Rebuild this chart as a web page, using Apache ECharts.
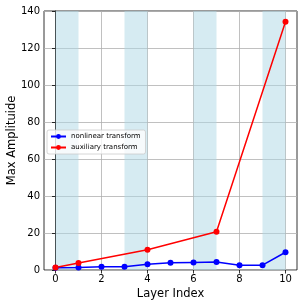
<!DOCTYPE html>
<html><head><meta charset="utf-8">
<script src="https://cdn.jsdelivr.net/npm/echarts@6/dist/echarts.min.js"></script>
<style>html,body{margin:0;padding:0;background:#fff}#c{width:305px;height:305px}</style>
</head><body><div id="c"></div>
<script>
const layers = [0,1,2,3,4,5,6,7,8,9,10];
const nonlinear = [1.2,1.4,1.7,1.8,3.1,3.9,4.1,4.3,2.6,2.6,9.6];
const auxLayers = [0,1,4,7,10];
const auxiliary = [1.4,3.8,11.0,20.7,134.2];
const bands = [[0,1],[3,4],[6,7],[9,10]];
const xTicks = {min:0,max:10,interval:2};
const yTicks = {min:0,max:140,interval:20};

const font = 'DejaVu Sans';
const chart = echarts.init(document.getElementById('c'), null, {renderer:'canvas'});
chart.setOption({
  animation:false,
  grid:[
    {left:44,width:253,top:11,height:259,show:true,borderColor:'#000',borderWidth:0.8,backgroundColor:'transparent',containLabel:false,outerBoundsMode:'none'},
    {left:55.5,width:230,top:11,height:259,show:false,containLabel:false,outerBoundsMode:'none'}
  ],
  xAxis:[
    {type:'value',gridIndex:0,min:-0.5,max:10.5,interval:0.5,
     axisLine:{show:false},axisTick:{show:false},axisLabel:{show:false},splitLine:{show:false}},
    {type:'value',gridIndex:1,min:xTicks.min,max:xTicks.max,interval:xTicks.interval,
     axisLine:{show:false},
     axisTick:{show:true,length:3.5,lineStyle:{color:'#000',width:0.8}},
     axisLabel:{color:'#000',fontFamily:font,fontSize:10,margin:4},
     splitLine:{show:true,lineStyle:{color:'#b0b0b0',width:0.8}},
     name:'Layer Index',nameLocation:'middle',nameGap:18,nameMoveOverlap:false,
     nameTextStyle:{color:'#000',fontFamily:font,fontSize:11.5}}
  ],
  yAxis:[
    {type:'value',gridIndex:0,min:yTicks.min,max:yTicks.max,interval:yTicks.interval,
     axisLine:{show:true,lineStyle:{color:'#000',width:0.8}},
     axisTick:{show:true,length:3.5,lineStyle:{color:'#000',width:0.8}},
     axisLabel:{color:'#000',fontFamily:font,fontSize:10,margin:4},
     splitLine:{show:true,lineStyle:{color:'#b0b0b0',width:0.8}},
     name:'Max Amplituide',nameLocation:'middle',nameGap:26,nameRotate:90,nameMoveOverlap:false,
     nameTextStyle:{color:'#000',fontFamily:font,fontSize:11.5}},
    {type:'value',gridIndex:1,show:false,min:0,max:1}
  ],
  legend:{
    orient:'vertical',left:47,top:130,
    data:['nonlinear transform','auxiliary transform'],
    itemWidth:15,itemHeight:6,itemGap:4,
    padding:[3,5,3,3],
    borderColor:'#ccc',borderWidth:0.8,borderRadius:2,backgroundColor:'rgba(255,255,255,0.8)',
    textStyle:{fontFamily:font,fontSize:7,color:'#000'}
  },
  series:[
    {name:'nonlinear transform',type:'line',xAxisIndex:0,yAxisIndex:0,
     data:layers.map((x,i)=>[x,nonlinear[i]]),
     symbol:'circle',symbolSize:6,color:'#0000ff',lineStyle:{width:1.5,color:'#0000ff'},
     itemStyle:{color:'#0000ff'},
     markArea:{silent:true,itemStyle:{color:'rgba(173,216,230,0.5)'},
       data:bands.map(b=>[{xAxis:b[0]},{xAxis:b[1]}])},
     z:3},
    {name:'auxiliary transform',type:'line',xAxisIndex:0,yAxisIndex:0,
     data:auxLayers.map((x,i)=>[x,auxiliary[i]]),
     symbol:'circle',symbolSize:6,color:'#ff0000',lineStyle:{width:1.5,color:'#ff0000'},
     itemStyle:{color:'#ff0000'},z:3}
  ]
});
</script></body></html>
